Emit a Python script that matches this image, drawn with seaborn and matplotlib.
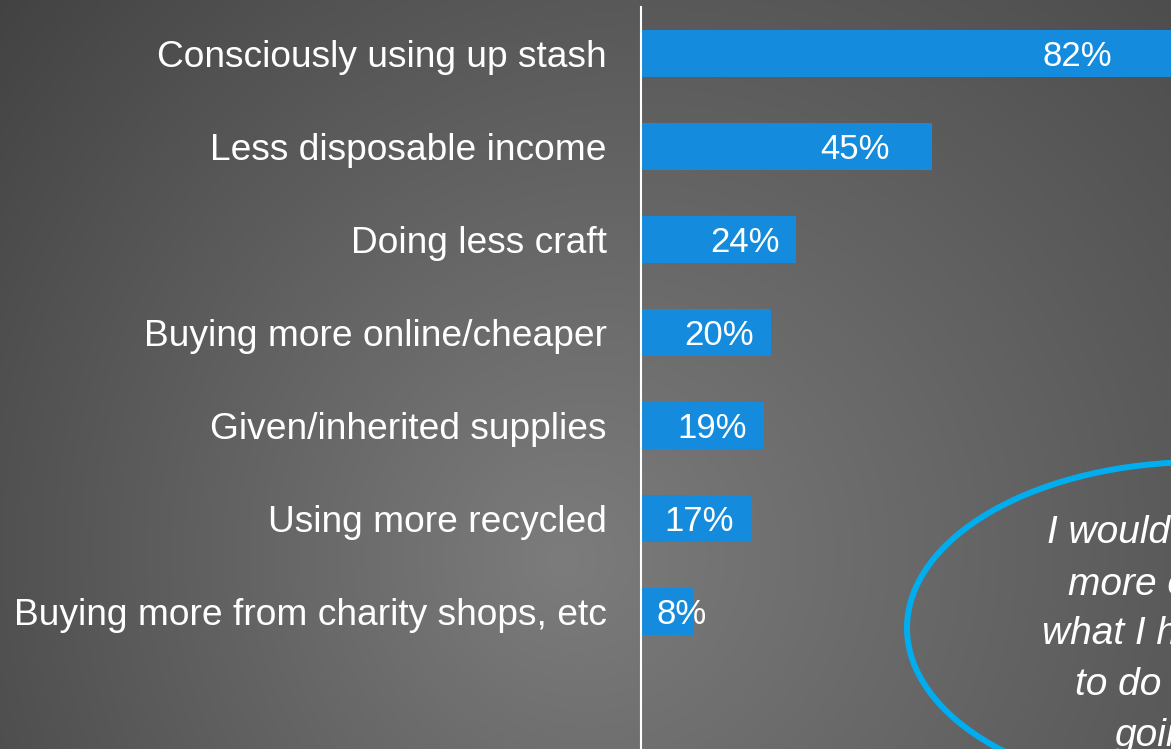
import numpy as np
import pandas as pd
import matplotlib
matplotlib.use("Agg")
import matplotlib.pyplot as plt
import seaborn as sns
from matplotlib.patches import Ellipse

categories = ["Consciously using up stash", "Less disposable income", "Doing less craft",
              "Buying more online/cheaper", "Given/inherited supplies", "Using more recycled",
              "Buying more from charity shops, etc"]
values = [82, 45, 24, 20, 19, 17, 8]
value_labels = ["82%", "45%", "24%", "20%", "19%", "17%", "8%"]
quote_lines = ["I would rather", "more of", "what I have", "to do and", "going"]

W, H = 1171, 749
sns.set_theme(style="white")
plt.rcParams['font.family'] = ['Liberation Sans', 'DejaVu Sans']

fig = plt.figure(figsize=(W / 100, H / 100), dpi=100)

# background gradient
bg = fig.add_axes([0, 0, 1, 1], zorder=0)
yy, xx = np.mgrid[0:H, 0:W].astype(float)
dx = xx - 560
dy = yy - 560
r = np.sqrt(dx ** 2 + dy ** 2)
val = 124 - (0.066 * r - 0.0112 * dx + 0.0015 * dy)
val = np.clip(val, 0, 255) / 255.0
img = np.dstack([val, val, val])
bg.imshow(img, aspect='auto', extent=[0, 1, 0, 1], origin='upper')
bg.axis('off')

ax = fig.add_axes([641 / W, 0, 1 - 641 / W + 1 / W, (H - 7) / H], zorder=2)
ax.patch.set_alpha(0)
df = pd.DataFrame({"cat": categories, "val": values})
sns.barplot(data=df, y="cat", x="val", orient="h", color="#148BDC", saturation=1,
            width=0.505, linewidth=0, edgecolor="none", ax=ax)
ax.set_xlim(0, 82)
ax.set_ylim(7.48, -0.495)
ax.set_xlabel("")
ax.set_ylabel("")
ax.set_xticks([])
for s in ["top", "right", "bottom"]:
    ax.spines[s].set_visible(False)
ax.spines["left"].set_color("white")
ax.spines["left"].set_linewidth(1.5)
ax.tick_params(axis="y", length=0, pad=24.5, labelsize=26.7, labelcolor="white")

fig.canvas.draw()
renderer = fig.canvas.get_renderer()
px_per_unit = ax.transData.transform((1, 0))[0] - ax.transData.transform((0, 0))[0]
for i, (v, lab) in enumerate(zip(values, value_labels)):
    pad = 17 + 5.6 * np.sqrt(max(0, v - 24))
    t = ax.annotate(lab, xy=(v, i), xytext=(-pad, 0), textcoords="offset pixels",
                    ha="right", va="center_baseline", color="white", fontsize=25)
    w = t.get_window_extent(renderer).width
    right_px = v * px_per_unit - pad
    min_right = 16 + w
    if right_px < min_right:
        t.set_position((-(v * px_per_unit - min_right), 0))

# quote bubble
cx, cy, a, b = 1200, 628, 293, 166
fig.add_artist(Ellipse((cx / W, 1 - cy / H), 2 * a / W, 2 * b / H, transform=fig.transFigure,
                       fill=False, ec="#00AEEF", lw=4.3, zorder=3))
qx = [1047, 1068, 1042, 1075, 1115]
qy = [543, 595, 644, 695, 746]
for line, x, y in zip(quote_lines, qx, qy):
    fig.text(x / W, 1 - y / H, line, ha="left", va="baseline", color="white",
             fontsize=28, style="italic", zorder=4)

fig.savefig("out.png", dpi=100)
